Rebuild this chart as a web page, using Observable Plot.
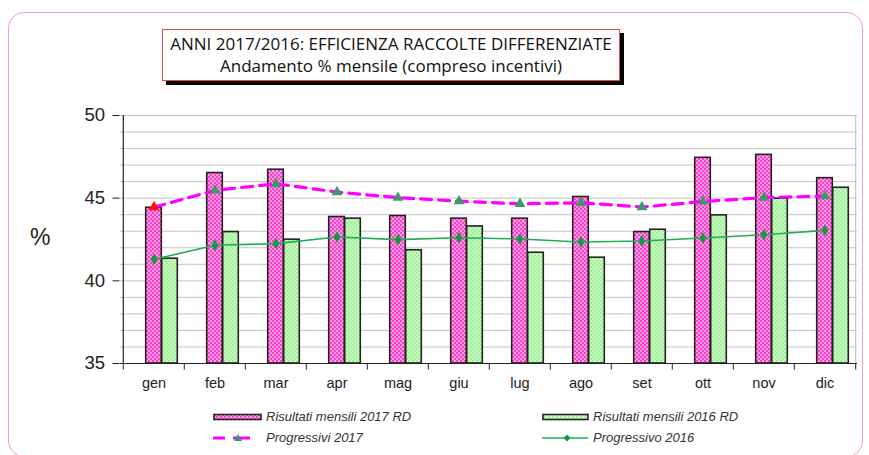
<!DOCTYPE html>
<html><head><meta charset="utf-8">
<script src="https://cdn.jsdelivr.net/npm/d3@7"></script>
<script src="https://cdn.jsdelivr.net/npm/@observablehq/plot@0.6"></script>
<style>
body{margin:0;background:#fff;}
#wrap{position:relative;width:869px;height:455px;overflow:hidden;font-family:"Liberation Sans",Arial,sans-serif;}
#frame{position:absolute;left:8px;top:12px;width:855px;height:445px;border:1.5px solid #f4a3a3;border-radius:16px;box-sizing:border-box;}
#title{position:absolute;left:162px;top:29px;width:458px;height:52px;border:1.5px solid #e05050;box-sizing:border-box;background:#fff;box-shadow:4px 4px 0 #000;text-align:center;font-family:"Open Sans",sans-serif;font-size:17px;line-height:22px;padding-top:3px;color:#111;}
#chart{position:absolute;left:0;top:0;}
#pct{position:absolute;left:30px;top:224px;font-size:23px;color:#222;}
.leg{position:absolute;font-size:13px;font-style:italic;color:#333;line-height:16px;}
</style></head>
<body><div id="wrap">
<div id="frame"></div>
<div id="chart"></div>
<div id="title">ANNI 2017/2016: EFFICIENZA RACCOLTE DIFFERENZIATE<br>Andamento % mensile (compreso incentivi)</div>
<div id="pct">%</div>
<svg id="legsvg" style="position:absolute;left:0;top:400px" width="869" height="50">
<defs>
<pattern id="lp" width="4" height="4" patternUnits="userSpaceOnUse"><rect width="4" height="4" fill="#ff9be6"/><rect width="2" height="2" fill="#ff3fc8"/><rect x="2" y="2" width="2" height="2" fill="#ff3fc8"/></pattern>
<pattern id="lg" width="4" height="4" patternUnits="userSpaceOnUse"><rect width="4" height="4" fill="#c6fbc0"/><rect width="2" height="2" fill="#a4ee9c"/><rect x="2" y="2" width="2" height="2" fill="#a4ee9c"/></pattern>
</defs>
<rect x="214" y="14.5" width="47" height="5" fill="url(#lp)" stroke="#222" stroke-width="1.6"/>
<rect x="543" y="14.5" width="45" height="5" fill="url(#lg)" stroke="#222" stroke-width="1.6"/>
<line x1="213" y1="38" x2="225" y2="38" stroke="#ff00ff" stroke-width="3"/>
<line x1="233" y1="38" x2="250" y2="38" stroke="#ff00ff" stroke-width="3"/>
<path d="M238,34 L242,41 L234,41 Z" fill="#3a9a6a"/>
<line x1="542" y1="38" x2="588" y2="38" stroke="#1fae55" stroke-width="1.5"/>
<path d="M567,34.5 L570.5,38 L567,41.5 L563.5,38 Z" fill="#139a45"/>
</svg>
<div class="leg" style="left:266px;top:409px">Risultati mensili 2017 RD</div>
<div class="leg" style="left:593px;top:409px">Risultati mensili 2016 RD</div>
<div class="leg" style="left:266px;top:430px">Progressivi 2017</div>
<div class="leg" style="left:593px;top:430px">Progressivo 2016</div>
</div>
<script>
const months = ["gen","feb","mar","apr","mag","giu","lug","ago","set","ott","nov","dic"];
const rd2017 = [44.42, 46.52, 46.72, 43.86, 43.92, 43.76, 43.76, 45.07, 42.95, 47.44, 47.62, 46.21];
const rd2016 = [41.34, 42.95, 42.49, 43.76, 41.85, 43.29, 41.70, 41.40, 43.09, 43.96, 44.97, 45.63];
const prog2017 = [44.46, 45.47, 45.87, 45.37, 45.03, 44.82, 44.66, 44.72, 44.46, 44.80, 45.03, 45.13];
const prog2016 = [41.30, 42.15, 42.25, 42.65, 42.49, 42.61, 42.53, 42.35, 42.41, 42.59, 42.79, 43.05];
const yTicks = [35, 40, 45, 50];
const gridVals = d3.range(35, 51);

const data = months.map((m, i) => ({m, a: rd2017[i], b: rd2016[i], p: prog2017[i], q: prog2016[i], i}));
const W = 869, H = 400, mL = 120, mR = 12, mT = 115, mB = 37;
const bw = (W - mL - mR) / months.length;
const barW = 16;

const plot = Plot.plot({
  width: W, height: H, marginLeft: mL, marginRight: mR, marginTop: mT, marginBottom: mB,
  style: {fontFamily: "Liberation Sans, Arial, sans-serif", background: "transparent"},
  x: {type: "band", domain: months, padding: 0, label: null},
  y: {domain: [35, 50], label: null},
  marks: [
    Plot.ruleY(gridVals, {stroke: "#c4c4c4", strokeWidth: 1}),
    Plot.ruleX([months[11]], {dx: bw / 2, y1: 35, y2: 50, stroke: "#bbb"}),
    Plot.barY(data, {x: "m", y1: 35, y2: "a", fill: "url(#pp)", stroke: "#222", strokeWidth: 1.6,
      insetLeft: bw / 2 - barW / 2, insetRight: bw / 2 - barW / 2}),
    Plot.barY(data, {x: "m", y1: 35, y2: "b", fill: "url(#gp)", stroke: "#222", strokeWidth: 1.6,
      insetLeft: bw / 2 + barW / 2, insetRight: bw / 2 - barW * 1.5}),
    Plot.line(data, {x: "m", y: "q", stroke: "#1fae55", strokeWidth: 1.6}),
    Plot.dot(data, {x: "m", y: "q", symbol: "diamond", r: 3.6, fill: "#139a45", stroke: "none"}),
    Plot.line(data, {x: "m", y: "p", stroke: "#ff00ff", strokeWidth: 3.2, strokeDasharray: "11,7"}),
    Plot.dot(data, {x: "m", y: "p", symbol: "triangle", r: 4, fill: d => d.i === 0 ? "#ff1010" : "#3a9a6a", stroke: "none"}),
    Plot.ruleY([35], {stroke: "#222", strokeWidth: 1.2}),
    Plot.ruleX([months[0]], {dx: -bw / 2, y1: 35, y2: 50, stroke: "#222", strokeWidth: 1.2}),
    Plot.ruleX(months, {x: d => d, dx: -bw / 2, y1: 35, y2: 34.6, stroke: "#222"}),
    Plot.ruleX([months[11]], {dx: bw / 2, y1: 35, y2: 34.6, stroke: "#222"}),
    Plot.axisY({ticks: yTicks, tickSize: 7, tickPadding: 8, fontSize: 18.5, stroke: "#222", fill: "#222", dx: -0.5}),
    Plot.axisX({tickSize: 0, tickPadding: 14, fontSize: 14.5, fill: "#222"})
  ]
});
const defs = `<defs>
<pattern id="pp" width="4" height="4" patternUnits="userSpaceOnUse"><rect width="4" height="4" fill="#ff9be6"/><rect width="2" height="2" fill="#ff3fc8"/><rect x="2" y="2" width="2" height="2" fill="#ff3fc8"/></pattern>
<pattern id="gp" width="4" height="4" patternUnits="userSpaceOnUse"><rect width="4" height="4" fill="#c6fbc0"/><rect width="2" height="2" fill="#a4ee9c"/><rect x="2" y="2" width="2" height="2" fill="#a4ee9c"/></pattern>
</defs>`;
plot.insertAdjacentHTML("afterbegin", defs);
document.getElementById("chart").appendChild(plot);
</script>
</body></html>
